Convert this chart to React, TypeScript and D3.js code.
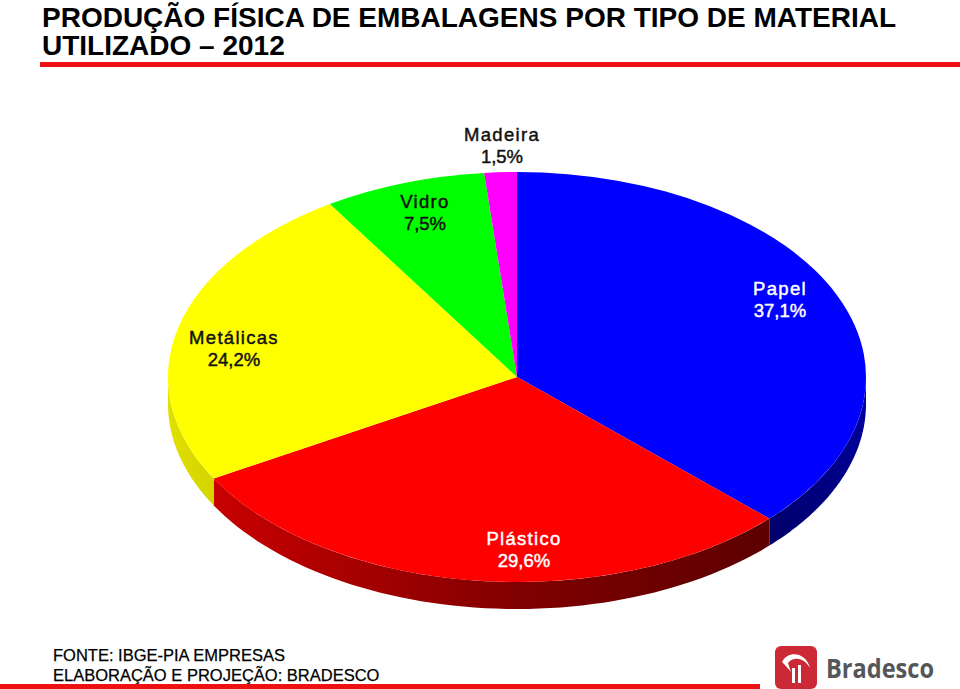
import * as d3 from "d3";

const categories = ["Papel", "Plástico", "Metálicas", "Vidro", "Madeira"];
const shares = [37.1, 29.6, 24.2, 7.5, 1.5];
const shareLabels = ["37,1%", "29,6%", "24,2%", "7,5%", "1,5%"];
const colors = ["#0000ff", "#ff0000", "#ffff00", "#00ff00", "#ff00ff"];
const labelColors = ["#fff", "#fff", "#111", "#111", "#111"];
const titleLines = ["PRODUÇÃO FÍSICA DE EMBALAGENS POR TIPO DE MATERIAL", "UTILIZADO – 2012"];
const footerLines = ["FONTE: IBGE-PIA EMPRESAS", "ELABORAÇÃO E PROJEÇÃO: BRADESCO"];

const width = 960;
const height = 689;
const cx = 517;
const cy = 377;
const rx = 349;
const ry = 205;
const depth = 27;
const font = "'Liberation Sans', Arial, sans-serif";

// label centres, same order as categories
const labelPos = [
  [780, 295],
  [524, 545],
  [234, 344],
  [425, 208],
  [502, 141],
];

const px = (a: number) => cx + rx * Math.sin(a);
const py = (a: number) => cy - ry * Math.cos(a);

export default function App() {
  const slices = d3.pie<number>().sort(null)(shares);
  const arc = d3.arc<d3.PieArcDatum<number>>().innerRadius(0).outerRadius(rx);
  const line = d3.line<[number, number]>();

  // front wall of a slice: only the part of the rim between 90deg and 270deg
  const wall = (s: d3.PieArcDatum<number>) => {
    const a0 = Math.max(s.startAngle, Math.PI / 2);
    const a1 = Math.min(s.endAngle, (3 * Math.PI) / 2);
    if (a1 <= a0) return null;
    const angles = d3.range(0, 61).map((i) => a0 + ((a1 - a0) * i) / 60);
    const top = angles.map((a) => [px(a), py(a)] as [number, number]);
    const bottom = angles.map((a) => [px(a), py(a) + depth] as [number, number]).reverse();
    return line([...top, ...bottom]) + "Z";
  };

  return (
    <svg
      width={width}
      height={height}
      viewBox={`0 0 ${width} ${height}`}
      style={{ position: "absolute", left: 0, top: 0, background: "#fff" }}
      fontFamily={font}
    >
      <defs>
        <linearGradient id="wall-0" gradientUnits="userSpaceOnUse" x1={770} y1={545} x2={866} y2={400}>
          <stop offset="0" stopColor="#000068" />
          <stop offset="1" stopColor="#0000a0" />
        </linearGradient>
        <linearGradient id="wall-1" gradientUnits="userSpaceOnUse" x1={214} y1={0} x2={770} y2={0}>
          <stop offset="0" stopColor="#c80000" />
          <stop offset="0.55" stopColor="#800000" />
          <stop offset="1" stopColor="#5c0000" />
        </linearGradient>
        <linearGradient id="wall-2" gradientUnits="userSpaceOnUse" x1={168} y1={0} x2={214} y2={0}>
          <stop offset="0" stopColor="#e0e000" />
          <stop offset="1" stopColor="#d4d400" />
        </linearGradient>
      </defs>

      {titleLines.map((t, i) => (
        <text key={t} x={42} y={27 + i * 28} fontSize={28} fontWeight="bold" fill="#000">
          {t}
        </text>
      ))}
      <rect x={40} y={62} width={920} height={5} fill="#ee1111" />

      {slices.map((s, i) => {
        const d = wall(s);
        return d ? <path key={i} d={d} fill={`url(#wall-${i})`} /> : null;
      })}
      <g transform={`translate(${cx},${cy}) scale(1,${ry / rx})`}>
        {slices.map((s, i) => (
          <path key={i} d={arc(s) ?? ""} fill={colors[i]} />
        ))}
      </g>

      {categories.map((c, i) => (
        <text
          key={c}
          x={labelPos[i][0]}
          y={labelPos[i][1]}
          textAnchor="middle"
          fontSize={18.5}
          fill={labelColors[i]}
          stroke={labelColors[i]}
          strokeWidth={0.45}
        >
          <tspan x={labelPos[i][0]} dy={0} letterSpacing={1.3}>{c}</tspan>
          <tspan x={labelPos[i][0]} dy={22}>{shareLabels[i]}</tspan>
        </text>
      ))}

      {footerLines.map((t, i) => (
        <text key={t} x={53} y={661 + i * 20} fontSize={16.5} fill="#000" stroke="#000" strokeWidth={0.25}>
          {t}
        </text>
      ))}
      <rect x={0} y={684} width={760} height={5} fill="#ee1111" />

      {/* logo */}
      <rect x={775} y={646} width={42} height={43} rx={6} fill="#cc2936" />
      <path
        d="M782 662 C788 650 806 652 810 668 C804 658 794 656 788 663 L791 672 C788 668 785 665 782 662 Z"
        fill="#fff"
      />
      <rect x={792} y={668} width={3} height={15} fill="#fff" />
      <rect x={798} y={665} width={3} height={18} fill="#fff" />
      <text x={826} y={678} fontSize={27} fontWeight="bold" fill="#55565a" fontFamily="'Open Sans', sans-serif" textLength={108} lengthAdjust="spacingAndGlyphs">
        Bradesco
      </text>
    </svg>
  );
}
